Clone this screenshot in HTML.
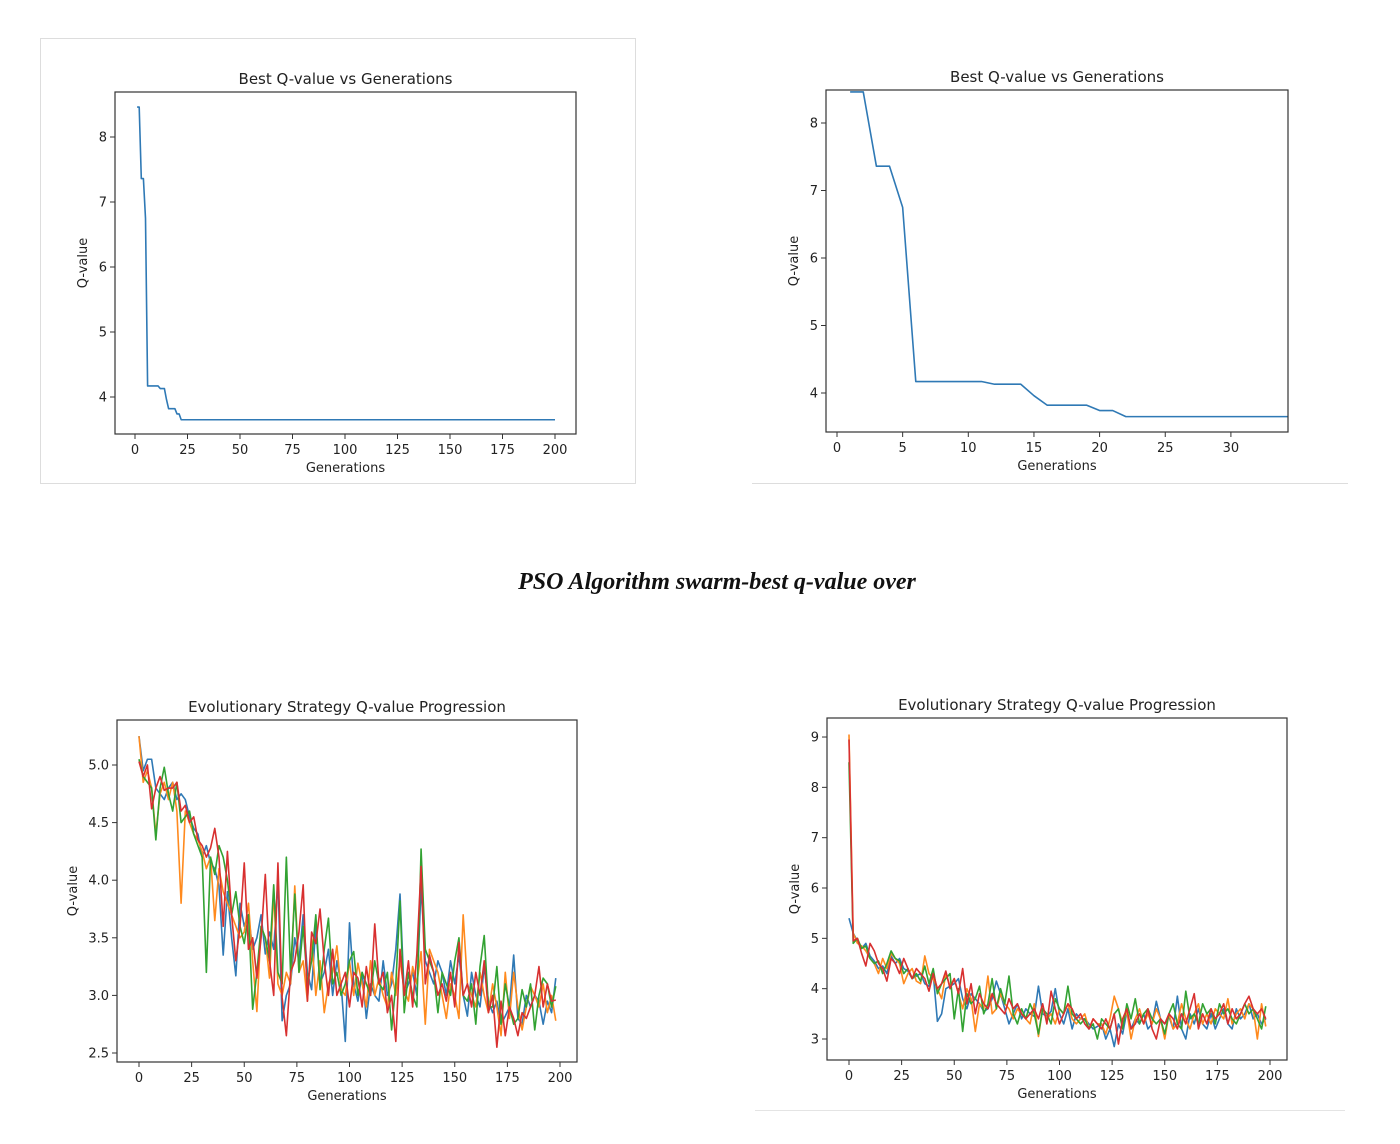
<!DOCTYPE html>
<html><head><meta charset="utf-8">
<style>
html,body{margin:0;padding:0;background:#fff;}
body{width:1400px;height:1144px;position:relative;overflow:hidden;font-family:"DejaVu Sans","Liberation Sans",sans-serif;}
svg{position:absolute;left:0;top:0;}
.caption{position:absolute;left:0;width:1434px;top:569px;text-align:center;font-family:"Liberation Serif",serif;font-style:italic;font-weight:bold;font-size:24px;color:#111;}
</style></head>
<body>
<svg id="canvas" width="1400" height="1144">
  <rect x="40.5" y="38.5" width="595" height="445" fill="none" stroke="#ddd"/>
  <line x1="752" y1="483.5" x2="1348" y2="483.5" stroke="#ddd"/>
  <line x1="755" y1="1110.5" x2="1345" y2="1110.5" stroke="#e4e4e4"/>
</svg>
<div class="caption">PSO Algorithm swarm-best q-value over</div>
<script>
// ---------- data ----------
const bestGens = [1,2,3,4,5,6,7,8,9,10,11,12,13,14,15,16,17,18,19,20,21,22,200];
const bestVals = [8.46,8.46,7.36,7.36,6.75,4.17,4.17,4.17,4.17,4.17,4.17,4.13,4.13,4.13,3.96,3.82,3.82,3.82,3.82,3.74,3.74,3.65,3.65];
const gTicksTL = [0,25,50,75,100,125,150,175,200];
const yTicksTL = [4,5,6,7,8];
const gTicksTR = [0,5,10,15,20,25,30];
const yTicksTR = [4,5,6,7,8];
const esStep = 2;
const esL_blue = [5.25,4.95,5.05,5.05,4.8,4.75,4.7,4.8,4.85,4.7, 4.75,4.7,4.55,4.45,4.4,4.2,4.3,4.15,4.1,3.95, 3.35,3.9,3.5,3.17,3.8,3.6,3.7,3.4,3.5,3.7, 3.36,3.55,3.4,4.0,2.78,3.0,3.1,3.5,3.3,3.7, 3.2,3.05,3.6,3.1,3.2,3.4,3.0,3.3,3.1,2.6, 3.63,3.1,2.95,3.2,2.8,3.1,3.0,2.95,3.3,3.0, 3.1,3.4,3.88,3.0,3.1,3.2,3.0,3.95,3.3,3.2, 3.1,3.3,3.2,3.0,3.3,3.1,3.35,3.0,2.82,3.2, 3.0,2.9,3.25,2.95,2.85,2.95,2.75,2.82,2.9,3.35, 2.8,2.75,3.0,2.9,3.0,2.95,2.75,2.95,2.85,3.15];
const esL_orange = [5.25,4.85,4.95,4.8,4.4,4.75,4.85,4.7,4.85,4.6, 3.8,4.6,4.5,4.4,4.35,4.25,4.1,4.2,3.65,4.1, 3.9,3.8,3.7,3.6,3.5,3.55,3.8,3.3,2.86,3.6, 3.5,3.15,3.9,3.1,3.0,3.2,3.1,3.95,3.2,3.3, 2.95,3.5,3.0,3.3,2.85,3.1,3.2,3.43,3.05,3.0, 3.3,3.0,3.28,3.1,2.9,3.3,3.0,3.15,3.0,2.9, 3.2,3.0,3.3,3.05,2.95,3.25,3.1,3.38,2.75,3.4, 3.3,3.2,3.0,2.8,3.1,3.0,2.8,3.7,3.1,3.0, 2.9,3.2,3.0,2.85,3.1,2.9,2.65,3.2,2.8,3.2, 2.9,2.7,2.9,3.08,3.0,2.9,3.1,2.85,3.0,2.78];
const esL_green = [5.05,4.9,4.85,4.8,4.35,4.8,4.98,4.75,4.6,4.85, 4.5,4.55,4.6,4.4,4.3,4.2,3.2,4.2,4.05,4.3, 4.2,4.0,3.7,3.9,3.6,3.45,3.7,2.88,3.2,3.6, 3.5,3.3,3.96,3.2,3.1,4.2,3.2,3.88,3.2,3.6, 3.1,3.3,3.7,3.05,3.4,3.67,3.1,3.2,3.0,3.1, 3.3,3.38,3.0,3.2,3.1,3.0,3.3,3.1,3.05,3.2, 2.7,3.1,3.82,2.85,3.2,3.0,2.9,4.27,3.4,3.3, 3.2,2.85,3.2,3.1,3.0,3.3,3.5,3.0,2.95,3.1, 2.75,3.25,3.52,2.9,2.9,3.25,2.75,3.1,2.9,2.75, 2.8,3.05,2.9,3.1,2.7,3.0,3.15,3.1,2.9,3.08];
const esL_red = [5.03,4.9,5.0,4.62,4.8,4.9,4.78,4.8,4.8,4.85, 4.6,4.65,4.5,4.55,4.35,4.3,4.2,4.28,4.45,4.2, 3.6,4.25,3.7,3.3,3.6,4.15,3.4,3.5,3.15,3.5, 4.05,3.3,3.0,4.15,2.98,2.65,3.2,3.3,3.55,3.96, 2.95,3.55,3.45,3.75,3.3,3.0,3.4,3.0,3.1,3.2, 2.9,3.2,3.15,2.9,3.25,3.0,3.62,3.1,3.2,2.85, 3.0,2.6,3.4,3.0,3.3,2.9,3.36,4.12,3.1,3.35, 3.2,3.0,3.1,2.95,3.2,2.9,3.46,3.0,3.1,2.9, 3.2,3.0,3.3,2.85,3.0,2.55,2.95,2.65,2.9,2.8, 2.65,2.85,2.8,2.9,3.0,3.25,2.9,3.1,2.95,2.96];
const esR_blue = [5.4,5.1,4.95,4.8,4.9,4.65,4.55,4.4,4.45,4.3, 4.65,4.5,4.6,4.4,4.35,4.2,4.25,4.3,4.1,4.05, 4.3,3.35,3.5,4.0,4.05,4.1,4.2,3.8,3.6,3.9, 3.8,3.7,3.55,3.6,3.8,4.15,3.9,3.6,3.3,3.5, 3.7,3.4,3.6,3.5,3.45,4.05,3.5,3.45,3.55,4.0, 3.5,3.3,3.6,3.2,3.5,3.4,3.4,3.3,3.2,3.25, 3.3,3.0,3.2,2.85,3.3,3.1,3.55,3.2,3.4,3.3, 3.5,3.2,3.3,3.75,3.4,3.3,3.45,3.2,3.85,3.2, 3.0,3.5,3.3,3.6,3.3,3.2,3.5,3.2,3.4,3.6, 3.3,3.2,3.6,3.4,3.5,3.7,3.4,3.5,3.3,3.4];
const esR_orange = [9.05,5.1,4.9,4.85,4.75,4.6,4.5,4.3,4.6,4.4, 4.7,4.6,4.5,4.1,4.3,4.4,4.15,4.1,4.65,4.3, 4.2,4.0,3.8,4.3,4.05,4.2,3.9,3.6,4.0,3.8, 3.15,3.7,3.6,4.25,3.5,3.6,3.9,3.7,3.6,3.4, 3.6,3.5,3.4,3.3,3.7,3.05,3.6,3.4,3.5,3.3, 3.6,3.5,3.7,3.4,3.3,3.4,3.5,3.2,3.4,3.3, 3.3,3.1,3.4,3.85,3.6,3.3,3.55,3.0,3.4,3.6, 3.3,3.5,3.3,3.6,3.4,3.0,3.5,3.2,3.3,3.7, 3.4,3.2,3.5,3.7,3.3,3.5,3.3,3.6,3.5,3.4, 3.8,3.3,3.5,3.6,3.4,3.7,3.6,3.0,3.7,3.25];
const esR_green = [8.5,4.9,5.0,4.8,4.85,4.6,4.5,4.55,4.3,4.5, 4.75,4.6,4.55,4.3,4.4,4.2,4.3,4.15,4.45,4.1, 4.4,3.9,4.1,4.2,4.3,3.4,4.0,3.15,3.9,3.7, 3.8,4.05,3.5,3.7,4.2,3.6,4.0,3.7,4.25,3.5, 3.3,3.6,3.4,3.7,3.5,3.1,3.6,3.5,3.3,3.8, 3.6,3.5,4.05,3.5,3.4,3.3,3.4,3.2,3.3,3.0, 3.4,3.3,3.2,3.5,3.6,3.2,3.7,3.4,3.8,3.3, 3.5,3.6,3.4,3.3,3.4,3.1,3.5,3.7,3.3,3.2, 3.95,3.4,3.5,3.3,3.7,3.5,3.6,3.3,3.7,3.5, 3.6,3.4,3.3,3.5,3.7,3.5,3.6,3.4,3.2,3.65];
const esR_red = [8.95,4.95,5.0,4.7,4.45,4.9,4.75,4.5,4.4,4.15, 4.6,4.5,4.3,4.6,4.4,4.2,4.4,4.3,4.2,3.95, 4.3,4.0,4.1,4.35,4.0,4.2,3.9,4.4,3.7,4.1, 3.5,3.9,3.7,3.6,3.9,3.7,3.6,3.5,3.8,3.6, 3.7,3.5,3.4,3.5,3.6,3.4,3.7,3.3,3.95,3.6, 3.3,3.5,3.7,3.6,3.4,3.5,3.3,3.2,3.4,3.3, 3.2,3.4,3.2,3.5,2.9,3.4,3.6,3.2,3.3,3.5, 3.3,3.6,3.2,3.0,3.4,3.3,3.5,3.4,3.2,3.5, 3.3,3.6,3.9,3.2,3.5,3.3,3.6,3.4,3.5,3.7, 3.3,3.6,3.4,3.5,3.7,3.85,3.6,3.5,3.6,3.4];
const gTicksES = [0,25,50,75,100,125,150,175,200];
const yTicksESL = [2.5,3.0,3.5,4.0,4.5,5.0];
const yTicksESR = [3,4,5,6,7,8,9];
const seriesColors = ['#2f79b5','#ff8a1e','#32a232','#d83030'];

// ---------- drawing ----------
const NS='http://www.w3.org/2000/svg';
const svg=document.getElementById('canvas');
function mk(tag,attrs,parent){const e=document.createElementNS(NS,tag);for(const k in attrs)e.setAttribute(k,attrs[k]);(parent||svg).appendChild(e);return e;}

function chart(cfg){
  const g=mk('g',{});
  
  
  const sx=v=>cfg.x0px+(v-cfg.x0v)*cfg.xs;
  const sy=v=>cfg.y0px-(v-cfg.y0v)*cfg.ys;
  const t=mk('text',{x:(cfg.L+cfg.R)/2,y:cfg.T-8,'text-anchor':'middle','font-size':15,fill:'#222'},g);
  t.textContent=cfg.title;
  
  
  cfg.xticks.forEach(v=>{
    const x=sx(v);
    const tl=mk('line',{x1:x,y1:cfg.B,x2:x,y2:cfg.B+5,stroke:'#333'},g);
    
    
    const tx=mk('text',{x:x,y:cfg.B+20,'text-anchor':'middle','font-size':13,fill:'#222'},g);
    tx.textContent=String(v);
    
    
  });
  cfg.yticks.forEach(v=>{
    const y=sy(v);
    const tl=mk('line',{x1:cfg.L-5,y1:y,x2:cfg.L,y2:y,stroke:'#333'},g);
    
    
    const tx=mk('text',{x:cfg.L-8,y:y+4.5,'text-anchor':'end','font-size':13,fill:'#222'},g);
    tx.textContent=cfg.yfmt(v);
    
    
  });
  const xl=mk('text',{x:(cfg.L+cfg.R)/2,y:cfg.B+38,'text-anchor':'middle','font-size':13,fill:'#222'},g);
  xl.textContent='Generations';
  
  
  const yx=cfg.L-cfg.ylabOff, yy=(cfg.T+cfg.B)/2;
  const yl=mk('text',{x:yx,y:yy,'text-anchor':'middle','font-size':13,fill:'#222',transform:`rotate(-90 ${yx} ${yy})`},g);
  yl.textContent='Q-value';
  
  
  const cid='clip-'+cfg.name;
  const cp=mk('clipPath',{id:cid},g);
  mk('rect',{x:cfg.L,y:cfg.T,width:cfg.R-cfg.L,height:cfg.B-cfg.T},cp);
  cfg.series.forEach((s,i)=>{
    const pts=s.ys.map((v,j)=>sx(s.xs?s.xs[j]:j*cfg.step)+','+sy(v)).join(' ');
    const pl=mk('polyline',{points:pts,fill:'none',stroke:seriesColors[i],'stroke-width':1.6,'stroke-linejoin':'round','clip-path':`url(#${cid})`},g);
    
    
  });
  const fr=mk('rect',{x:cfg.L,y:cfg.T,width:cfg.R-cfg.L,height:cfg.B-cfg.T,fill:'none',stroke:'#333','stroke-width':1.2},g);
  
  
}

chart({name:'best-q-full-chart',title:'Best Q-value vs Generations',L:115,R:576,T:92,B:434,
  x0px:135,x0v:0,xs:2.1,y0px:397,y0v:4,ys:65,ylabOff:28,
  xticks:gTicksTL,yticks:yTicksTL,yfmt:v=>String(v),
  series:[{name:'best-q-line',xs:bestGens,ys:bestVals}]});
chart({name:'best-q-zoom-chart',title:'Best Q-value vs Generations',L:826,R:1288,T:90,B:432,
  x0px:837,x0v:0,xs:13.13,y0px:393,y0v:4,ys:67.5,ylabOff:28,
  xticks:gTicksTR,yticks:yTicksTR,yfmt:v=>String(v),
  series:[{name:'best-q-line-zoom',xs:bestGens,ys:bestVals}]});
chart({name:'es-chart-left',title:'Evolutionary Strategy Q-value Progression',L:117,R:577,T:720,B:1062,
  x0px:139,x0v:0,xs:2.105,y0px:765,y0v:5,ys:115.2,ylabOff:40,step:esStep,
  xticks:gTicksES,yticks:yTicksESL,yfmt:v=>v.toFixed(1),
  series:[{name:'es-left-run-1',ys:esL_blue},{name:'es-left-run-2',ys:esL_orange},{name:'es-left-run-3',ys:esL_green},{name:'es-left-run-4',ys:esL_red}]});
chart({name:'es-chart-right',title:'Evolutionary Strategy Q-value Progression',L:827,R:1287,T:718,B:1060,
  x0px:849,x0v:0,xs:2.105,y0px:1039,y0v:3,ys:50.33,ylabOff:28,step:esStep,
  xticks:gTicksES,yticks:yTicksESR,yfmt:v=>String(v),
  series:[{name:'es-right-run-1',ys:esR_blue},{name:'es-right-run-2',ys:esR_orange},{name:'es-right-run-3',ys:esR_green},{name:'es-right-run-4',ys:esR_red}]});
</script>
</body></html>
